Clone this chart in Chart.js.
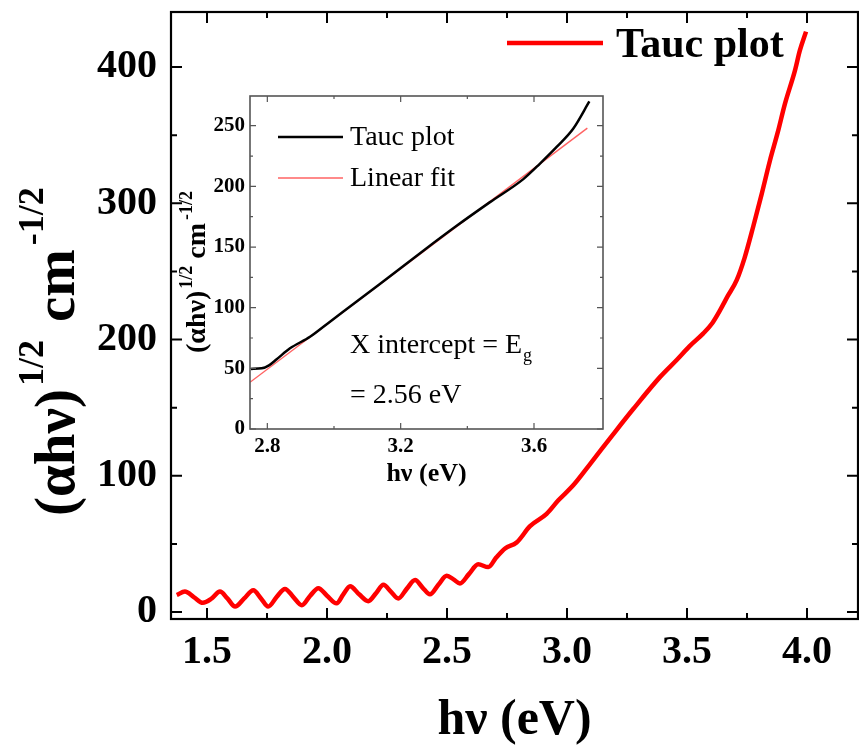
<!DOCTYPE html>
<html>
<head>
<meta charset="utf-8">
<script src="https://cdn.jsdelivr.net/npm/chart.js@4.4.0/dist/chart.umd.min.js"></script>
<style>
    body { margin: 0; background: #fff; }
    #area { position: relative; width: 859px; height: 748px; }
    #graficoPrincipal { position: absolute; left: 0; top: 0; }
    #graficoInset { position: absolute; left: 175px; top: 85px; }
</style>
</head>
<body>
<div id="area">
    <canvas id="graficoPrincipal" width="859" height="748"></canvas>
    <canvas id="graficoInset" width="435" height="410"></canvas>
</div>
<script>
// dados do grafico principal (hv em eV, (alpha hv)^1/2)
const energiaPrincipal = [1.374, 1.408, 1.445, 1.483, 1.52, 1.554, 1.585, 1.617, 1.655, 1.693, 1.725, 1.755, 1.79, 1.825,
    1.86, 1.895, 1.93, 1.964, 2.0, 2.04, 2.068, 2.096, 2.134, 2.172, 2.205, 2.235, 2.266, 2.297, 2.332, 2.367, 2.398,
    2.429, 2.464, 2.499, 2.527, 2.554, 2.592, 2.63, 2.672, 2.705, 2.742, 2.79, 2.846, 2.915, 2.964, 3.026, 3.096,
    3.193, 3.276, 3.388, 3.457, 3.51, 3.568, 3.605, 3.638, 3.67, 3.707, 3.74, 3.776, 3.81, 3.846, 3.878,
    3.908, 3.95, 3.97, 3.996];
const taucPrincipal = [12.5, 15, 11, 6.8, 10, 15, 10, 4, 10, 16, 10, 4, 11, 17,
    11, 5, 12, 17.5, 12, 6.4, 13, 19, 13, 8, 14, 20, 15, 10, 17, 23.5, 18,
    13, 20, 26.6, 24, 21, 28, 35, 33, 40, 46.7, 51, 63, 72, 82, 93, 108.6,
    130.6, 149, 172.6, 185, 195, 204.5, 212, 221.6, 232, 243.6, 260, 283, 306, 331.6, 352,
    373, 397.6, 412, 426];

// dados do inset
const energiaInset = [2.751, 2.783, 2.805, 2.828, 2.868, 2.928, 2.988, 3.068, 3.168, 3.268, 3.368, 3.468, 3.568,
    3.618, 3.668, 3.718, 3.766];
const taucInset = [49.5, 50, 52.5, 57.5, 66.5, 76, 88.5, 105, 126, 147, 167.5, 187, 206,
    218.8, 232.5, 247.7, 270];
const energiaAjuste = [2.748, 3.76];
const ajusteLinear = [38.5, 248];

// ticks
const ticksXPrincipal = [1.5, 2.0, 2.5, 3.0, 3.5, 4.0];
const menoresXPrincipal = [1.75, 2.25, 2.75, 3.25, 3.75];
const ticksYPrincipal = [0, 100, 200, 300, 400];
const menoresYPrincipal = [50, 150, 250, 350];
const ticksXInset = [2.8, 3.2, 3.6];
const menoresXInset = [3.0, 3.4];
const ticksYInset = [0, 50, 100, 150, 200, 250];
const menoresYInset = [25, 75, 125, 175, 225];

const serifa = "'Liberation Serif', 'Times New Roman', serif";

function pontos(xs, ys) {
    let lista = [];
    for (let i = 0; i < xs.length; i++) {
        lista.push({ x: xs[i], y: ys[i] });
    }
    return lista;
}

// tira o padding automatico que o Chart.js reserva para os rotulos das pontas
function semPadding(s) {
    s.paddingTop = 0;
    s.paddingBottom = 0;
    s.paddingLeft = 0;
    s.paddingRight = 0;
}

// moldura com ticks para dentro nos quatro lados
const molduraPlugin = {
    id: 'moldura',
    afterDatasetsDraw(chart, args, opts) {
        const { ctx, chartArea: a, scales: { x, y } } = chart;
        ctx.save();
        ctx.strokeStyle = opts.cor;
        ctx.lineWidth = opts.espessuraTick;
        ctx.beginPath();
        function marcaX(v, len) {
            const px = x.getPixelForValue(v);
            ctx.moveTo(px, a.bottom); ctx.lineTo(px, a.bottom - len);
            ctx.moveTo(px, a.top); ctx.lineTo(px, a.top + len);
        }
        function marcaY(v, len) {
            const py = y.getPixelForValue(v);
            ctx.moveTo(a.left, py); ctx.lineTo(a.left + len, py);
            ctx.moveTo(a.right, py); ctx.lineTo(a.right - len, py);
        }
        opts.xMaiores.forEach(v => marcaX(v, opts.maior));
        opts.xMenores.forEach(v => marcaX(v, opts.menor));
        opts.yMaiores.forEach(v => marcaY(v, opts.maior));
        opts.yMenores.forEach(v => marcaY(v, opts.menor));
        ctx.stroke();
        ctx.lineWidth = opts.espessura;
        ctx.strokeRect(a.left, a.top, a.right - a.left, a.bottom - a.top);
        ctx.restore();
    }
};

// titulo vertical com expoentes
function tituloVertical(ctx, x, y, partes) {
    ctx.save();
    ctx.translate(x, y);
    ctx.rotate(-Math.PI / 2);
    ctx.fillStyle = '#000';
    ctx.textBaseline = 'alphabetic';
    let pos = 0;
    partes.forEach(p => {
        ctx.font = p.fonte;
        ctx.fillText(p.texto, pos, -(p.sobe || 0));
        pos += ctx.measureText(p.texto).width + (p.espaco || 0);
    });
    ctx.restore();
}

const textosPlugin = {
    id: 'textos',
    afterDraw(chart, args, opts) {
        const ctx = chart.ctx;
        ctx.save();
        // legenda a partir dos datasets
        opts.legenda.forEach((item, i) => {
            const ds = chart.data.datasets[i];
            ctx.strokeStyle = ds.borderColor;
            ctx.lineWidth = ds.borderWidth;
            ctx.beginPath();
            ctx.moveTo(item.x1, item.y);
            ctx.lineTo(item.x2, item.y);
            ctx.stroke();
            ctx.fillStyle = '#000';
            ctx.font = opts.fonteLegenda;
            ctx.textBaseline = 'middle';
            ctx.fillText(ds.label, item.xt, item.y + (item.dy || 0));
        });
        tituloVertical(ctx, opts.tituloY.x, opts.tituloY.y, opts.tituloY.partes);
        if (opts.extra) opts.extra(ctx);
        ctx.restore();
    }
};

// ---------------- grafico principal ----------------
const ctxPrincipal = document.getElementById('graficoPrincipal').getContext('2d');

new Chart(ctxPrincipal, {
    type: 'line',
    data: {
        datasets: [{
            label: 'Tauc plot',
            data: pontos(energiaPrincipal, taucPrincipal),
            borderColor: '#ff0000',
            borderWidth: 4.5,
            pointRadius: 0,
            fill: false,
            cubicInterpolationMode: 'monotone'
        }]
    },
    options: {
        responsive: false,
        animation: false,
        layout: { padding: { top: 12, right: 1, left: 0, bottom: 0 } },
        plugins: {
            legend: { display: false },
            tooltip: { enabled: false },
            moldura: {
                cor: '#000', espessura: 2.2, espessuraTick: 2, maior: 11, menor: 6,
                xMaiores: ticksXPrincipal, xMenores: menoresXPrincipal,
                yMaiores: ticksYPrincipal, yMenores: menoresYPrincipal
            },
            textos: {
                fonteLegenda: 'bold 42px ' + serifa,
                legenda: [{ x1: 507, x2: 603, y: 43, xt: 616, dy: 3 }],
                tituloY: {
                    x: 74, y: 516,
                    partes: [
                        { texto: '(αhν)', fonte: 'bold 57px ' + serifa, espaco: 3 },
                        { texto: '1/2', fonte: 'bold 36px ' + serifa, sobe: 31, espaco: 18 },
                        { texto: 'cm', fonte: 'bold 57px ' + serifa, espaco: 4 },
                        { texto: '-1/2', fonte: 'bold 36px ' + serifa, sobe: 31 }
                    ]
                }
            }
        },
        scales: {
            x: {
                type: 'linear',
                min: 1.35,
                max: 4.2125,
                afterFit: s => { s.height = 129; semPadding(s); },
                afterBuildTicks: s => { s.ticks = ticksXPrincipal.map(v => ({ value: v })); },
                grid: { display: false, drawTicks: false },
                border: { display: false },
                ticks: {
                    padding: 10,
                    color: '#000',
                    maxRotation: 0,
                    autoSkip: false,
                    font: { family: serifa, size: 40, weight: 'bold', lineHeight: 1.2 },
                    callback: v => v.toFixed(1)
                },
                title: {
                    display: true,
                    text: 'hν (eV)',
                    color: '#000',
                    padding: { top: 0, bottom: 2 },
                    font: { family: serifa, size: 50, weight: 'bold', lineHeight: 1.0 }
                }
            },
            y: {
                type: 'linear',
                min: -5.1,
                max: 440.4,
                afterFit: s => { s.width = 171; semPadding(s); },
                afterBuildTicks: s => { s.ticks = ticksYPrincipal.map(v => ({ value: v })); },
                grid: { display: false, drawTicks: false },
                border: { display: false },
                ticks: {
                    padding: 14,
                    color: '#000',
                    autoSkip: false,
                    font: { family: serifa, size: 40, weight: 'bold', lineHeight: 1.2 }
                }
            }
        }
    },
    plugins: [molduraPlugin, textosPlugin]
});

// ---------------- inset ----------------
const ctxInset = document.getElementById('graficoInset').getContext('2d');

new Chart(ctxInset, {
    type: 'line',
    data: {
        datasets: [{
            label: 'Tauc plot',
            data: pontos(energiaInset, taucInset),
            borderColor: '#000000',
            borderWidth: 2.5,
            pointRadius: 0,
            fill: false,
            cubicInterpolationMode: 'monotone'
        }, {
            label: 'Linear fit',
            data: pontos(energiaAjuste, ajusteLinear),
            borderColor: 'rgba(255, 70, 70, 0.85)',
            borderWidth: 1.4,
            pointRadius: 0,
            fill: false
        }]
    },
    options: {
        responsive: false,
        animation: false,
        layout: { padding: { top: 11, right: 7, left: 0, bottom: 0 } },
        plugins: {
            legend: { display: false },
            tooltip: { enabled: false },
            moldura: {
                cor: '#555', espessura: 1.6, espessuraTick: 1.2, maior: 6, menor: 3,
                xMaiores: ticksXInset, xMenores: menoresXInset,
                yMaiores: ticksYInset, yMenores: menoresYInset
            },
            textos: {
                fonteLegenda: '28px ' + serifa,
                legenda: [
                    { x1: 103, x2: 168, y: 52, xt: 175, dy: 1 },
                    { x1: 103, x2: 168, y: 93, xt: 175, dy: 1 }
                ],
                tituloY: {
                    x: 30, y: 268,
                    partes: [
                        { texto: '(αhν)', fonte: 'bold 28px ' + serifa, espaco: 2 },
                        { texto: '1/2', fonte: 'bold 18px ' + serifa, sobe: 13, espaco: 7 },
                        { texto: 'cm', fonte: 'bold 28px ' + serifa, espaco: 3 },
                        { texto: '-1/2', fonte: 'bold 18px ' + serifa, sobe: 13 }
                    ]
                },
                extra: function (ctx) {
                    ctx.fillStyle = '#000';
                    ctx.textBaseline = 'alphabetic';
                    ctx.font = '28px ' + serifa;
                    const t = 'X intercept = E';
                    ctx.fillText(t, 175, 268);
                    const w = ctx.measureText(t).width;
                    ctx.font = '18px ' + serifa;
                    ctx.fillText('g', 175 + w + 1, 276);
                    ctx.font = '28px ' + serifa;
                    ctx.fillText('= 2.56 eV', 175, 318);
                }
            }
        },
        scales: {
            x: {
                type: 'linear',
                min: 2.748,
                max: 3.807,
                afterFit: s => { s.height = 66; semPadding(s); },
                afterBuildTicks: s => { s.ticks = ticksXInset.map(v => ({ value: v })); },
                grid: { display: false, drawTicks: false },
                border: { display: false },
                ticks: {
                    padding: 5,
                    color: '#000',
                    maxRotation: 0,
                    autoSkip: false,
                    font: { family: serifa, size: 21, weight: 'bold', lineHeight: 1.2 },
                    callback: v => v.toFixed(1)
                },
                title: {
                    display: true,
                    text: 'hν (eV)',
                    color: '#000',
                    padding: { top: 0, bottom: 8 },
                    font: { family: serifa, size: 26, weight: 'bold', lineHeight: 1.0 }
                }
            },
            y: {
                type: 'linear',
                min: 0,
                max: 274.5,
                afterFit: s => { s.width = 75; semPadding(s); },
                afterBuildTicks: s => { s.ticks = ticksYInset.map(v => ({ value: v })); },
                grid: { display: false, drawTicks: false },
                border: { display: false },
                ticks: {
                    padding: 5,
                    color: '#000',
                    autoSkip: false,
                    font: { family: serifa, size: 21, weight: 'bold', lineHeight: 1.2 }
                }
            }
        }
    },
    plugins: [molduraPlugin, textosPlugin]
});

console.log('graficos plotados');
</script>
</body>
</html>
